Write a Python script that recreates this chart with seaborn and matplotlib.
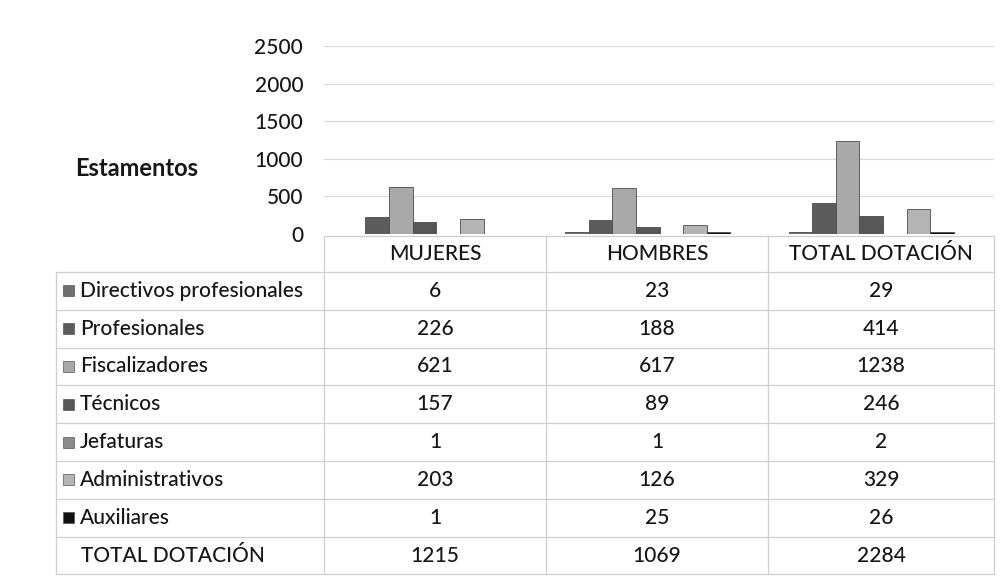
import matplotlib
matplotlib.use("Agg")
import matplotlib.pyplot as plt
import seaborn as sns
import pandas as pd

# Staff by category ("estamento") and gender
groups = ["MUJERES", "HOMBRES", "TOTAL DOTACIÓN"]
estamentos = ["Directivos profesionales", "Profesionales", "Fiscalizadores",
              "Técnicos", "Jefaturas", "Administrativos", "Auxiliares"]
mujeres = [6, 226, 621, 157, 1, 203, 1]
hombres = [23, 188, 617, 89, 1, 126, 25]
total = [29, 414, 1238, 246, 2, 329, 26]
totales = [1215, 1069, 2284]
yticks = [0, 500, 1000, 1500, 2000, 2500]

colors = ["#6e6e6e", "#5c5c5c", "#a9a9a9", "#575757", "#8c8c8c", "#b4b4b4", "#111111"]

rows = []
for g, vals in zip(groups, [mujeres, hombres, total]):
    for e, v in zip(estamentos, vals):
        rows.append({"grupo": g, "estamento": e, "valor": v})
df = pd.DataFrame(rows)

sns.set_theme(style="white")
plt.rcParams["font.family"] = ["Lato", "DejaVu Sans"]
plt.rcParams["font.weight"] = "medium"

W, H = 1005, 582
fig = plt.figure(figsize=(W / 100, H / 100), dpi=100)
fig.patch.set_facecolor("white")

def fx(x):
    return x / W

def fy(y):
    return 1 - y / H

FS = 15
TXT = "#161616"

# Bar chart area
ax = fig.add_axes([fx(324), fy(234), fx(994 - 324), (234 - 46) / H])
sns.barplot(data=df, x="grupo", y="valor", hue="estamento", order=groups,
            hue_order=estamentos, palette=colors, width=0.74, ax=ax,
            edgecolor="#4a4a4a", linewidth=0.6, legend=False, errorbar=None)
ax.set_ylim(0, 2500)
ax.set_xlim(-0.45, 2.55)
ax.set_yticks(yticks)
ax.set_yticklabels([str(t) for t in yticks], fontsize=FS, color=TXT)
ax.tick_params(axis="y", length=0, pad=15)
ax.set_xticks([])
ax.set_xlabel("")
ax.set_ylabel("")
for s in ax.spines.values():
    s.set_visible(False)
ax.yaxis.grid(True, color="#d9d9d9", linewidth=0.8)
ax.set_axisbelow(True)

# Data table drawn in pixel coordinates
tax = fig.add_axes([0, 0, 1, 1])
tax.set_xlim(0, W)
tax.set_ylim(H, 0)
tax.axis("off")

line_kw = dict(color="#cfcfcf", linewidth=0.9)
col_x = [324, 546, 768, 994]
left_x = 56
header_top, header_bot = 236, 272
row_h = 37.8
n_rows = len(estamentos) + 1
table_bot = header_bot + n_rows * row_h

# vertical lines
for x in col_x:
    tax.plot([x, x], [header_top, table_bot], **line_kw)
tax.plot([left_x, left_x], [header_bot, table_bot], **line_kw)
# horizontal lines
tax.plot([col_x[0], col_x[-1]], [header_top, header_top], **line_kw)
for i in range(n_rows + 1):
    y = header_bot + i * row_h
    tax.plot([left_x, col_x[-1]], [y, y], **line_kw)

centers = [(col_x[i] + col_x[i + 1]) / 2 for i in range(3)]
txt_kw = dict(fontsize=FS, color=TXT, va="center", ha="center")
for c, g in zip(centers, groups):
    tax.text(c, (header_top + header_bot) / 2, g, **txt_kw)

series = [mujeres, hombres, total]
for r, (e, col) in enumerate(zip(estamentos, colors)):
    yc = header_bot + (r + 0.5) * row_h
    tax.add_patch(plt.Rectangle((63, yc - 5.5), 11, 11, facecolor=col,
                                edgecolor="#555555", linewidth=0.5))
    tax.text(80, yc, e, fontsize=FS, color=TXT, va="center", ha="left")
    for c, vals in zip(centers, series):
        tax.text(c, yc, str(vals[r]), **txt_kw)

yc = header_bot + (n_rows - 0.5) * row_h
tax.text(81, yc, "TOTAL DOTACIÓN", fontsize=FS, color=TXT, va="center", ha="left")
for c, v in zip(centers, totales):
    tax.text(c, yc, str(v), **txt_kw)

fig.text(fx(75), fy(168), "Estamentos", fontsize=17, fontweight="bold",
         color=TXT, va="center", ha="left")

fig.savefig("out.png", dpi=100, facecolor="white")
